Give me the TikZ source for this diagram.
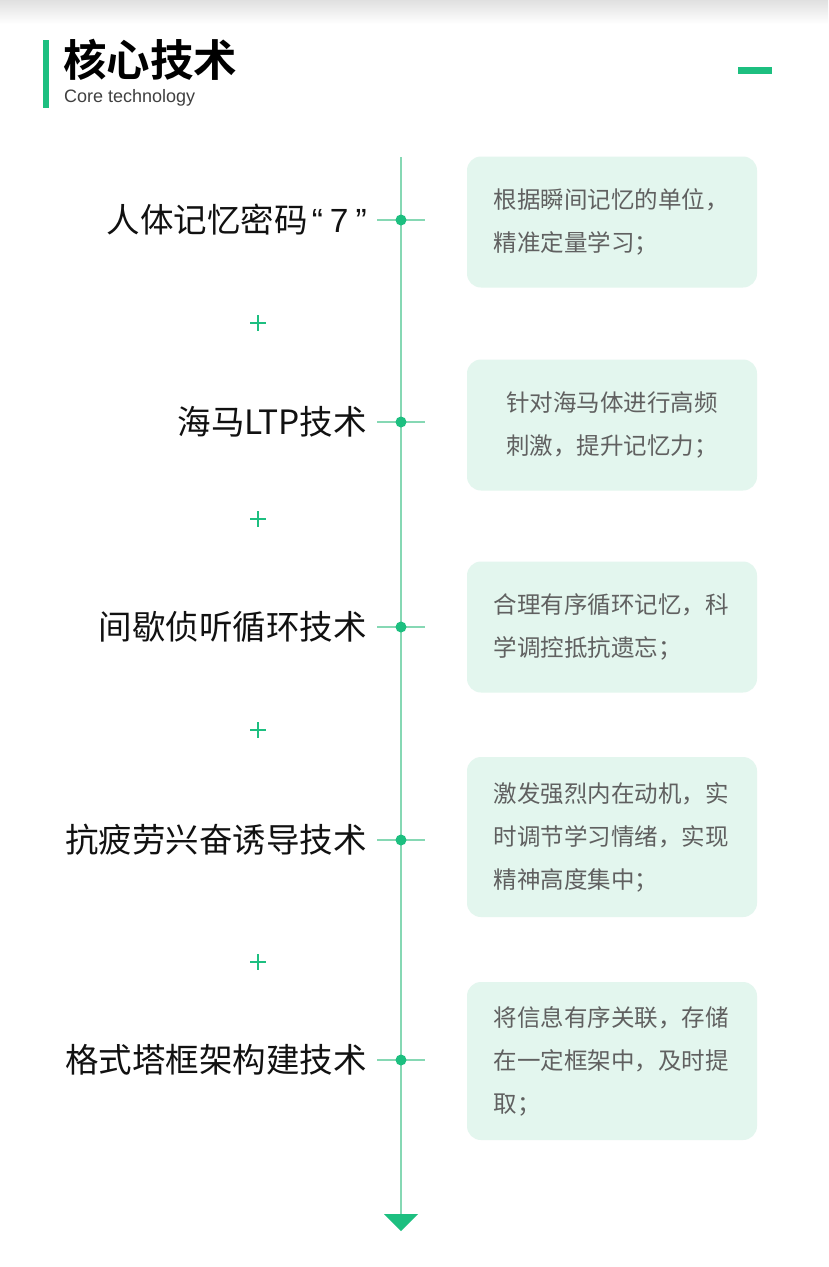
\documentclass[tikz,border=0pt]{standalone}
\usepackage{fontspec}
\setmainfont{Noto Sans CJK SC}[BoldFont={Noto Sans CJK SC Bold}]
\newfontfamily\latinfont{Liberation Sans}
\definecolor{techgreen}{HTML}{1DBF80}
\definecolor{linegreen}{HTML}{86D8B4}
\definecolor{boxfill}{HTML}{E3F6EE}
\definecolor{labelgray}{HTML}{111111}
\definecolor{descgray}{HTML}{606060}
\tikzset{
  axisline/.style={linegreen, line width=2pt},
  tickline/.style={linegreen, line width=1.5pt},
  hubdot/.style={circle, fill=techgreen, minimum size=11pt, inner sep=0pt},
  techlabel/.style={anchor=east, text=labelgray, inner sep=0pt, font=\fontsize{33.5}{38}\selectfont},
  descbox/.style={fill=boxfill, rounded corners=14pt, text width=237pt, inner xsep=26.5pt,
    minimum height=131pt, text=descgray, align=left, font=\fontsize{23.5}{43}\selectfont},
  plusmark/.style={techgreen, line width=2.2pt}
}
\begin{document}
\begin{tikzpicture}[x=1pt,y=-1pt]
% page
\fill[white] (0,0) rectangle (828,1267);
\useasboundingbox (0,0) rectangle (828,1267);
\shade[top color=black!12, bottom color=white] (0,0) rectangle (828,24);

% Header
\fill[techgreen] (43,40) rectangle (49,108);
\node[anchor=west, inner sep=0pt, font=\fontsize{43.5}{46}\selectfont\bfseries] (title) at (63,60) {核心技术};
\node[anchor=west, inner sep=0pt, text=black!75, font=\latinfont\fontsize{18}{20}\selectfont] (subtitle) at (64,98) {Core technology};
\fill[techgreen] (738,67) rectangle (772,74);

% Timeline
\coordinate (top) at (401,157);
\coordinate (bottom) at (401,1214);
\draw[axisline] (top) -- (bottom);
\fill[techgreen] (bottom) ++(-17,0) -- ++(34,0) -- ++(-17,17) -- cycle;

% Plus marks between steps
\foreach \y in {323,519,730,962}
  \draw[plusmark] (258,\y) +(-8,0) -- +(8,0) (258,\y) +(0,-8) -- +(0,8);

% Step 1
\coordinate (c1) at (401,220);
\draw[tickline] ([xshift=-24pt]c1) -- ([xshift=24pt]c1);
\node[hubdot] (d1) at (c1) {};
\node[techlabel] (l1) at (367,220) {人体记忆密码{\latinfont\hspace{4pt}“\hspace{7pt}7\hspace{7pt}”}};
\node[descbox] (b1) at (612,222) {根据瞬间记忆的单位，\\精准定量学习；};

% Step 2
\coordinate (c2) at (401,422);
\draw[tickline] ([xshift=-24pt]c2) -- ([xshift=24pt]c2);
\node[hubdot] (d2) at (c2) {};
\node[techlabel] (l2) at (367,422) {海马LTP技术};
\node[descbox, align=center] (b2) at (612,425) {针对海马体进行高频\\刺激，提升记忆力；};

% Step 3
\coordinate (c3) at (401,627);
\draw[tickline] ([xshift=-24pt]c3) -- ([xshift=24pt]c3);
\node[hubdot] (d3) at (c3) {};
\node[techlabel] (l3) at (367,627) {间歇侦听循环技术};
\node[descbox] (b3) at (612,627) {合理有序循环记忆，科\\学调控抵抗遗忘；};

% Step 4
\coordinate (c4) at (401,840);
\draw[tickline] ([xshift=-24pt]c4) -- ([xshift=24pt]c4);
\node[hubdot] (d4) at (c4) {};
\node[techlabel] (l4) at (367,840) {抗疲劳兴奋诱导技术};
\node[descbox, minimum height=160pt] (b4) at (612,837) {激发强烈内在动机，实\\时调节学习情绪，实现\\精神高度集中；};

% Step 5
\coordinate (c5) at (401,1060);
\draw[tickline] ([xshift=-24pt]c5) -- ([xshift=24pt]c5);
\node[hubdot] (d5) at (c5) {};
\node[techlabel] (l5) at (367,1060) {格式塔框架构建技术};
\node[descbox, minimum height=158pt] (b5) at (612,1061) {将信息有序关联，存储\\在一定框架中，及时提\\取；};
\end{tikzpicture}
\end{document}
